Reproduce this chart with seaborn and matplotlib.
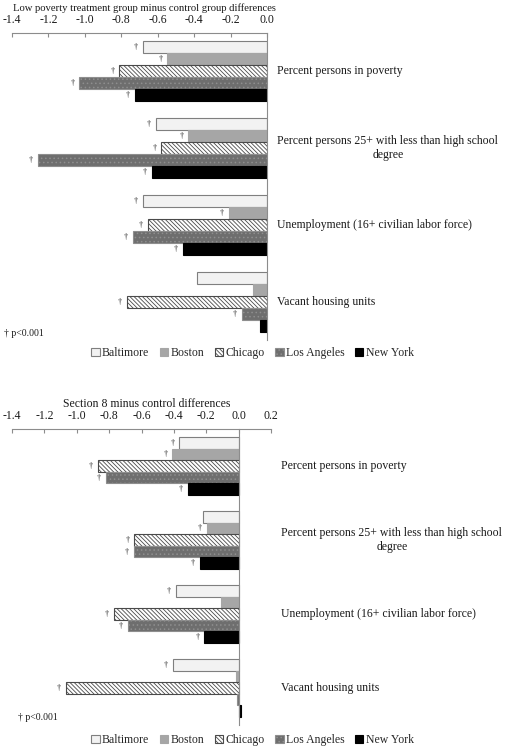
import matplotlib
matplotlib.use("Agg")
import matplotlib.pyplot as plt
import matplotlib.ticker as mticker
from matplotlib.patches import Patch
import numpy as np
import pandas as pd
import seaborn as sns

measures = ["Percent persons in poverty",
            "Percent persons 25+ with less than high school\ndegree",
            "Unemployment (16+ civilian labor force)",
            "Vacant housing units"]
cities = ["Baltimore", "Boston", "Chicago", "Los Angeles", "New York"]

# low poverty treatment group minus control
lp_baltimore = [-0.68, -0.61, -0.68, -0.385]
lp_boston = [-0.547, -0.432, -0.207, -0.075]
lp_chicago = [-0.81, -0.58, -0.655, -0.77]
lp_la = [-1.03, -1.258, -0.736, -0.139]
lp_ny = [-0.725, -0.633, -0.46, -0.038]
lp_sig_baltimore = [1, 1, 1, 0]
lp_sig_boston = [1, 1, 1, 0]
lp_sig_chicago = [1, 1, 1, 1]
lp_sig_la = [1, 1, 1, 1]
lp_sig_ny = [1, 1, 1, 0]

# section 8 minus control
s8_baltimore = [-0.366, -0.22, -0.386, -0.407]
s8_boston = [-0.409, -0.197, -0.111, -0.018]
s8_chicago = [-0.868, -0.644, -0.772, -1.068]
s8_la = [-0.819, -0.646, -0.683, -0.012]
s8_ny = [-0.315, -0.241, -0.212, 0.012]
s8_sig_baltimore = [1, 0, 1, 1]
s8_sig_boston = [1, 1, 0, 0]
s8_sig_chicago = [1, 1, 1, 1]
s8_sig_la = [1, 1, 1, 0]
s8_sig_ny = [1, 1, 1, 0]

lp_ticks = [-1.4, -1.2, -1.0, -0.8, -0.6, -0.4, -0.2, 0.0]
s8_ticks = [-1.4, -1.2, -1.0, -0.8, -0.6, -0.4, -0.2, 0.0, 0.2]

sns.set_style("white")
plt.rcParams["font.family"] = ["Liberation Serif", "DejaVu Serif"]
plt.rcParams["axes.unicode_minus"] = False
plt.rcParams["hatch.linewidth"] = 0.6

faces = ["#f2f2f2", "#a6a6a6", "#ffffff", "#6e6e6e", "#000000"]
edges = ["#7f7f7f", "#a6a6a6", "#4a4a4a", "#8e8e8e", "#000000"]
hatches = ["", "", "\\" * 8, "....", ""]
axis_col = "#8c8c8c"
text_col = "#1a1a1a"


def make_df(vals):
    rows = []
    for city, v in zip(cities, vals):
        for m, x in zip(measures, v):
            rows.append({"measure": m, "city": city, "value": x})
    return pd.DataFrame(rows)


def draw_panel(ax, vals, sigs, ticks, xlim, title, title_size):
    df = make_df(vals)
    sns.barplot(data=df, x="value", y="measure", hue="city", hue_order=cities,
                order=measures, orient="h", width=0.78, palette=faces,
                saturation=1, errorbar=None, legend=False, ax=ax)
    for i, cont in enumerate(ax.containers):
        for j, bar in enumerate(cont):
            bar.set_facecolor(faces[i])
            bar.set_edgecolor(edges[i])
            bar.set_linewidth(0.8)
            bar.set_hatch(hatches[i])
            if sigs[i][j]:
                end = bar.get_x() + bar.get_width()
                yc = bar.get_y() + bar.get_height() / 2
                ax.annotate("\u2020", xy=(end, yc), xytext=(-5, 0),
                            textcoords="offset points", ha="center", va="center",
                            fontsize=6, color="#222222")
    ax.set_xlim(*xlim)
    ax.set_ylim(3.5, -0.5)
    ax.xaxis.tick_top()
    ax.set_xticks(ticks)
    ax.xaxis.set_major_formatter(mticker.FormatStrFormatter("%.1f"))
    ax.tick_params(axis="x", direction="in", length=3, color=axis_col,
                   labelsize=8.5, pad=5, labelcolor=text_col)
    ax.set_yticks(np.arange(-0.5, 4.0, 1.0))
    ax.set_yticklabels([])
    ax.tick_params(axis="y", direction="out", length=3, color=axis_col)
    for s in ["bottom", "right"]:
        ax.spines[s].set_visible(False)
    ax.spines["left"].set_position(("data", 0))
    ax.spines["left"].set_color(axis_col)
    ax.spines["top"].set_color(axis_col)
    ax.spines["left"].set_linewidth(0.8)
    ax.spines["top"].set_linewidth(0.8)
    ax.set_xlabel("")
    ax.set_ylabel("")
    ax.set_title(title, fontsize=title_size, pad=2, color=text_col, x=0.52)
    for k, m in enumerate(measures):
        ax.annotate(m, xy=(1, k), xycoords=ax.get_yaxis_transform(),
                    xytext=(7.5, 0), textcoords="offset points",
                    ha="left", va="center", multialignment="center",
                    fontsize=8.5, color=text_col)


fig = plt.figure(figsize=(5.05, 7.5), dpi=100)
ax1 = fig.add_axes([12 / 505, 1 - 340 / 750, 255 / 505, 307 / 750])
ax2 = fig.add_axes([12 / 505, 1 - 725 / 750, 259 / 505, 296 / 750])

draw_panel(ax1, [lp_baltimore, lp_boston, lp_chicago, lp_la, lp_ny],
           [lp_sig_baltimore, lp_sig_boston, lp_sig_chicago, lp_sig_la, lp_sig_ny],
           lp_ticks, (-1.4, 0.0),
           "Low poverty treatment group minus control group differences", 7.7)
draw_panel(ax2, [s8_baltimore, s8_boston, s8_chicago, s8_la, s8_ny],
           [s8_sig_baltimore, s8_sig_boston, s8_sig_chicago, s8_sig_la, s8_sig_ny],
           s8_ticks, (-1.4, 0.2),
           "Section 8 minus control differences", 8.5)

fig.text(4 / 505, 1 - 334 / 750, "\u2020 p<0.001", fontsize=7, va="center",
         color=text_col)
fig.text(18 / 505, 1 - 717 / 750, "\u2020 p<0.001", fontsize=7, va="center",
         color=text_col)

handles = [Patch(facecolor=faces[i], edgecolor=edges[i], hatch=hatches[i],
                 linewidth=0.8, label=c) for i, c in enumerate(cities)]
for y in [1 - 353 / 750, 1 - 740 / 750]:
    fig.legend(handles=handles, loc="center", bbox_to_anchor=(0.5, y), ncol=5,
               frameon=False, fontsize=8.5, handlelength=0.7, handleheight=0.7,
               handletextpad=0.2, columnspacing=0.9, borderpad=0)

fig.savefig("out.png", dpi=100)
